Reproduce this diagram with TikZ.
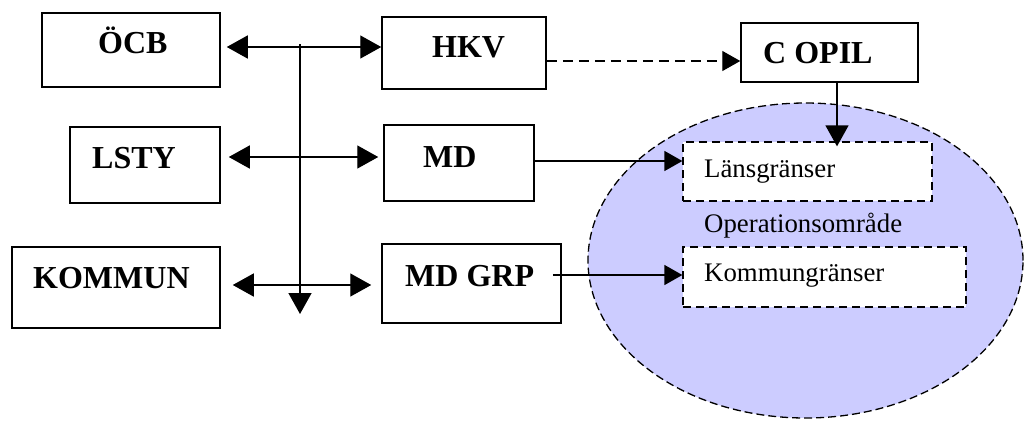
\documentclass[tikz,border=0pt]{standalone}
\usepackage{fontspec}
\setmainfont{Liberation Serif}
\usetikzlibrary{arrows.meta,calc,shapes.geometric}
\definecolor{lav}{RGB}{204,204,255}
\begin{document}
\begin{tikzpicture}[x=1pt,y=-1pt,
  box/.style={draw,line width=1.5pt,rectangle,inner sep=0pt,fill=white},
  dbox/.style={draw,line width=1.3pt,dash pattern=on 8pt off 5pt,rectangle,inner sep=0pt,fill=white},
  big/.style={inner sep=0pt,anchor=base west,font=\fontsize{32}{36}\selectfont\bfseries},
  small/.style={inner sep=0pt,anchor=base west,font=\fontsize{26.8}{30}\selectfont},
  tip/.style={-{Triangle[length=21pt,width=23pt]}},
  dtip/.style={{Triangle[length=21pt,width=23pt]}-{Triangle[length=21pt,width=23pt]}},
  stip/.style={-{Triangle[length=18pt,width=20pt]}},
  conn/.style={line width=1.4pt}]
\useasboundingbox (0,0) rectangle (1026,421);
% ellipse
\node[draw,line width=1.3pt,dash pattern=on 8pt off 4pt,fill=lav,ellipse,minimum width=435pt,minimum height=315pt,inner sep=0pt] (op) at (805.5,260.5) {};
% boxes
\node[box,minimum width=178pt,minimum height=74pt] (ocb) at (131,50) {};
\node[box,minimum width=164pt,minimum height=72pt] (hkv) at (464,53) {};
\node[box,minimum width=150pt,minimum height=76pt] (lsty) at (145,165) {};
\node[box,minimum width=150pt,minimum height=76pt] (md) at (459,163) {};
\node[box,minimum width=208pt,minimum height=81pt] (kommun) at (116,287.5) {};
\node[box,minimum width=179pt,minimum height=79pt] (mdgrp) at (471.5,283.5) {};
\node[box,minimum width=177pt,minimum height=59pt] (copil) at (829.5,52.5) {};
\node[dbox,minimum width=249pt,minimum height=59pt] (lans) at (807.5,171.5) {};
\node[dbox,minimum width=283pt,minimum height=60pt] (kommg) at (824.5,277) {};
% texts
\node[big] (tocb) at (98,53) {ÖCB};
\node[big] (thkv) at (432,57) {HKV};
\node[big] (tlsty) at (92,168) {LSTY};
\node[big] (tmd) at (423,167) {MD};
\node[big] (tkommun) at (33,288) {KOMMUN};
\node[big] (tmdgrp) at (405,286) {MD GRP};
\node[big] (tcopil) at (763,63) {C OPIL};
\node[small] (tlans) at (704,177) {Länsgränser};
\node[small] (top) at (704,232) {Operationsområde};
\node[small] (tkommg) at (704,281) {Kommungränser};
% bus
\coordinate (bustop) at (300,44);
\coordinate (busbot) at (300,314);
\coordinate (r1) at (300,47);
\coordinate (r2) at (300,157);
\coordinate (r3) at (300,285);
\draw[conn,tip] (bustop) -- (busbot);
\draw[conn,dtip,shorten <=6pt] (ocb.east |- r1) -- (hkv.west |- r1);
\draw[conn,dtip,shorten <=8pt,shorten >=5pt] (lsty.east |- r2) -- (md.west |- r2);
\draw[conn,dtip,shorten <=12pt,shorten >=10pt] (kommun.east |- r3) -- (mdgrp.west |- r3);
% right side connectors
\coordinate (d1) at (0,61);
\draw[conn,dash pattern=on 10pt off 6pt,stip] (hkv.east |- d1) -- (copil.west |- d1);
\coordinate (c1) at (837,0);
\draw[conn,tip,shorten >=-5pt] (copil.south -| c1) -- (lans.north -| c1);
\coordinate (m1) at (0,161);
\draw[conn,stip,shorten <=-2pt] (md.east |- m1) -- (lans.west |- m1);
\coordinate (m2) at (0,275);
\draw[conn,stip,shorten <=-9pt] (mdgrp.east |- m2) -- (kommg.west |- m2);
\end{tikzpicture}
\end{document}
